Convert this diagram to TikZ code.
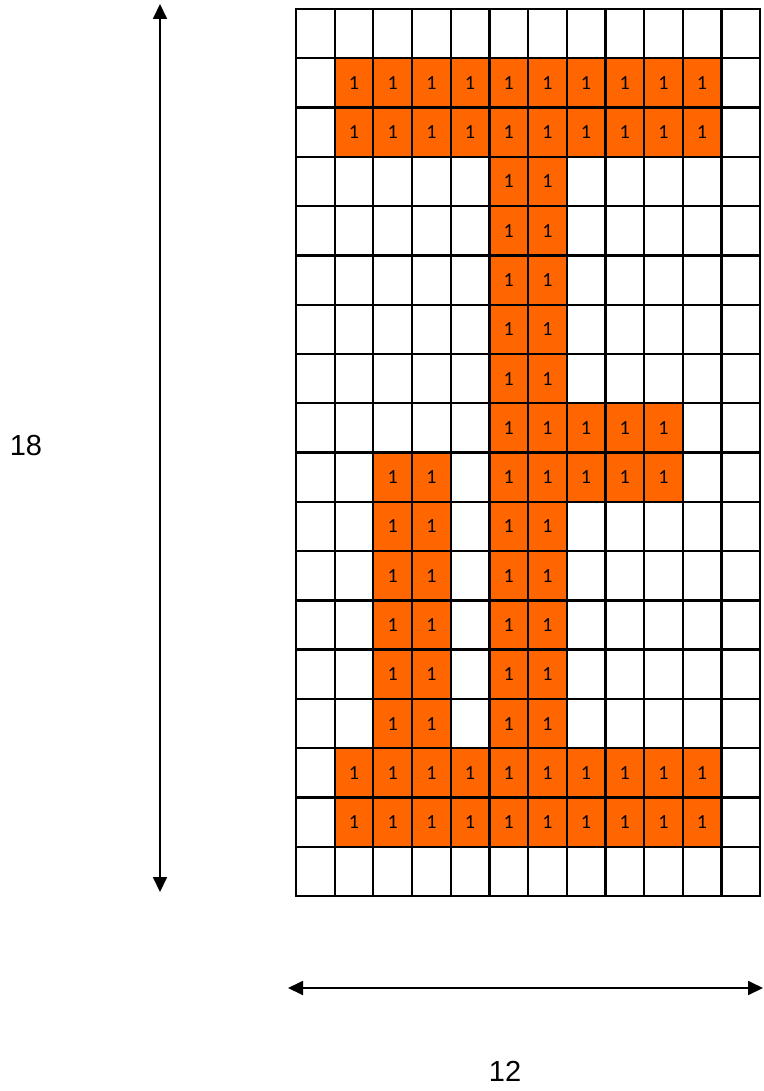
\documentclass[tikz,border=0pt]{standalone}
\usepackage{fontspec}
\setmainfont{Liberation Sans}
\newfontfamily\cellfont{Carlito}
\usetikzlibrary{arrows.meta}
\definecolor{cellorange}{HTML}{FF6600}

\begin{document}
\begin{tikzpicture}[
    x=1pt, y=-1pt,
    >={Triangle[length=15pt,width=14pt]},
    gridcell/.style={
      draw=black, line width=2.3pt, fill=white,
      minimum width=38.67pt, minimum height=49.28pt,
      inner sep=0pt, outer sep=0pt,
    },
    onecell/.style={
      gridcell, fill=cellorange,
      font=\cellfont\fontsize{20}{24}\selectfont,
    },
    dimarrow/.style={<->, line width=1.8pt},
    dimlabel/.style={font=\fontsize{29}{34}\selectfont, inner sep=0pt},
  ]
  \useasboundingbox (0,0) rectangle (763,1091);

  % =================== empty grid 12 x 18 ===================
  \foreach \r in {0,...,17}
    \foreach \c in {0,...,11}
      \node[gridcell] (cell-\r-\c) at ({296+38.67*(\c+0.5)}, {9+49.28*(\r+0.5)}) {};

  % =================== cells holding 1 ===================
  % top and bottom bars
  \foreach \r in {1,2,15,16}
    \foreach \c in {1,...,10}
      \node[onecell] (one-\r-\c) at (cell-\r-\c) {1};
  % centre stem
  \foreach \r in {3,...,14}
    \foreach \c in {5,6}
      \node[onecell] (one-\r-\c) at (cell-\r-\c) {1};
  % right branch
  \foreach \r in {8,9}
    \foreach \c in {7,8,9}
      \node[onecell] (one-\r-\c) at (cell-\r-\c) {1};
  % left stem
  \foreach \r in {9,...,14}
    \foreach \c in {2,3}
      \node[onecell] (one-\r-\c) at (cell-\r-\c) {1};

  % =================== dimensions ===================
  \coordinate (htop) at (160,4);
  \coordinate (hbot) at (160,892);
  \draw[dimarrow] (htop) -- (hbot);
  \node[dimlabel] (hlabel) at (26,446) {18};

  \coordinate (wleft) at (288,988);
  \coordinate (wright) at (763,988);
  \draw[dimarrow] (wleft) -- (wright);
  \node[dimlabel] (wlabel) at (505,1071.5) {12};

\end{tikzpicture}
\end{document}
